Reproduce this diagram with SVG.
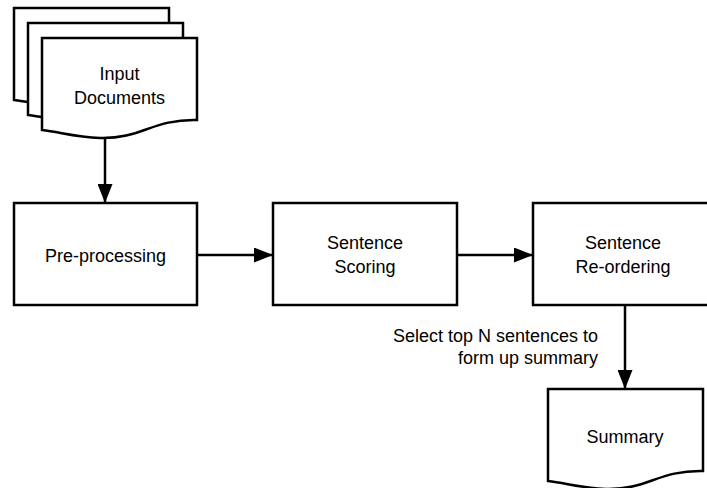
<svg xmlns="http://www.w3.org/2000/svg" width="707" height="488" viewBox="0 0 707 488">
  <style>
    .shape { fill: #fff; stroke: #000; stroke-width: 2.5; stroke-linejoin: miter; }
    .edge { fill: none; stroke: #000; stroke-width: 2.5; }
    text { font-family: "Liberation Sans", Arial, sans-serif; font-size: 18px; fill: #000; }
    .c { text-anchor: middle; }
    .r { text-anchor: end; }
  </style>
  <defs>
    <!-- flowchart "document" shape: flat top, wavy bottom -->
    <path id="doc" d="M0,0 H155 V82 C110,81 100,101 58,100 C33,99 18,94 0,92 Z"/>
    <marker id="arrow" markerUnits="userSpaceOnUse" markerWidth="19" markerHeight="15" refX="18" refY="7.5" orient="auto">
      <path d="M0,0 L19,7.5 L0,15 Z" fill="#000"/>
    </marker>
  </defs>

  <g id="input-documents">
    <use href="#doc" class="shape" x="14" y="8"/>
    <use href="#doc" class="shape" x="28" y="23"/>
    <use href="#doc" class="shape" x="42" y="38"/>
    <text class="c" x="119.5" y="80">Input</text>
    <text class="c" x="119.5" y="104">Documents</text>
  </g>

  <g id="pre-processing">
    <rect class="shape" x="14" y="203" width="183" height="102"/>
    <text class="c" x="105.5" y="262">Pre-processing</text>
  </g>

  <g id="sentence-scoring">
    <rect class="shape" x="273" y="203" width="184" height="102"/>
    <text class="c" x="365" y="249">Sentence</text>
    <text class="c" x="365" y="273">Scoring</text>
  </g>

  <g id="sentence-reordering">
    <rect class="shape" x="533" y="203" width="182" height="102"/>
    <text class="c" x="623" y="249">Sentence</text>
    <text class="c" x="623" y="273">Re-ordering</text>
  </g>

  <g id="summary">
    <use href="#doc" class="shape" x="548" y="389"/>
    <text class="c" x="625" y="443">Summary</text>
  </g>

  <g id="connectors">
    <line class="edge" x1="105" y1="137" x2="105" y2="202" marker-end="url(#arrow)"/>
    <line class="edge" x1="197" y1="255" x2="272" y2="255" marker-end="url(#arrow)"/>
    <line class="edge" x1="457" y1="255" x2="532" y2="255" marker-end="url(#arrow)"/>
    <line class="edge" x1="625" y1="305" x2="625" y2="388" marker-end="url(#arrow)"/>
    <text class="r" x="598" y="342">Select top N sentences to</text>
    <text class="r" x="598" y="364">form up summary</text>
  </g>
</svg>
